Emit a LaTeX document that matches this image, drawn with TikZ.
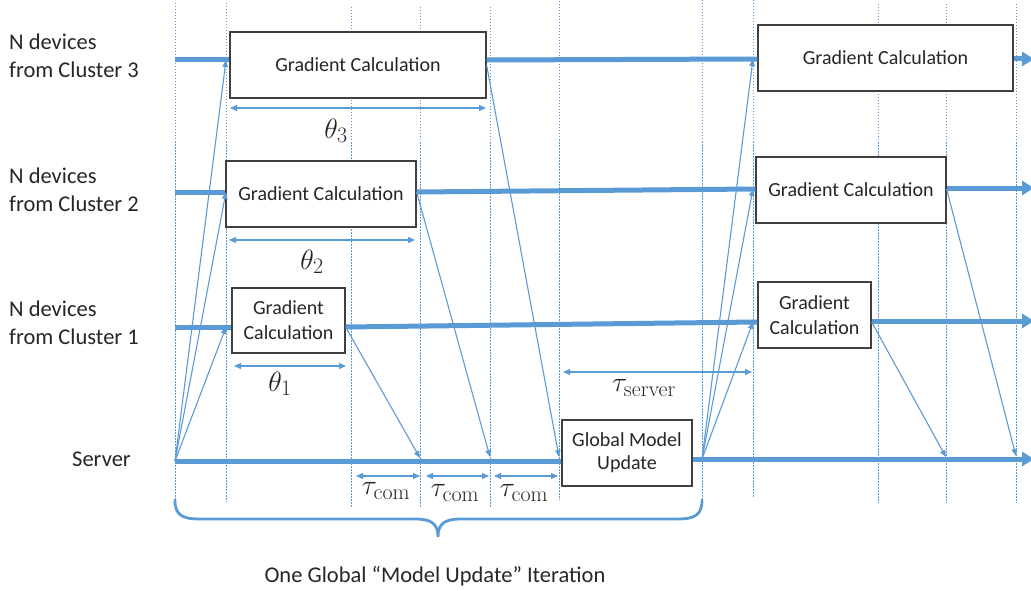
\documentclass[tikz,border=0pt]{standalone}
\usepackage{fix-cm}
\usepackage[no-math]{fontspec}
\setmainfont{Carlito}
\DeclareMathSizes{28}{28}{22}{16}
\usetikzlibrary{arrows.meta}
\definecolor{flow}{HTML}{5B9BD5}
\definecolor{ink}{HTML}{262626}
\definecolor{frame}{HTML}{404040}

\begin{document}
\begin{tikzpicture}[x=1pt,y=-1pt,
  guide/.style={flow, line width=1pt, dash pattern=on 1.5pt off 1.5pt},
  lane/.style={flow, line width=5pt},
  lanearrow/.style={lane, -{Triangle[length=12pt,width=14pt]}},
  msg/.style={flow, line width=1.1pt, -{Triangle[length=7pt,width=5.5pt]}},
  span/.style={flow, line width=1.3pt, {Triangle[length=7pt,width=6pt]}-{Triangle[length=7pt,width=6pt]}},
  task/.style={draw=frame, line width=1.2pt, fill=white, text=ink, inner sep=0pt,
    align=center, font=\fontsize{20}{25}\selectfont},
  who/.style={anchor=west, align=left, text=ink, inner sep=0pt,
    font=\fontsize{22.5}{27.5}\selectfont},
  mathlbl/.style={text=ink, inner sep=0pt, font=\fontsize{28}{32}\selectfont},
]
\useasboundingbox (0,0) rectangle (1031,591);

% time grid
\foreach \x/\a/\b in {175/3/500, 226/3/502, 351/7/507, 420/7/507, 490/7/507,
    559/1/500, 702/0/500, 753/0/498, 878/4/503, 946/4/503, 1016/4/503}
  \draw[guide] (\x,\a) -- (\x,\b);

% row labels
\node[who] (n3) at (9,56) {N devices\\from Cluster 3};
\node[who] (n2) at (9,190) {N devices\\from Cluster 2};
\node[who] (n1) at (9,323) {N devices\\from Cluster 1};
\node[who] (srv) at (72,459) {Server};

% processing boxes
\node[task, minimum width=256pt, minimum height=66pt] (g3a) at (358,65) {Gradient Calculation};
\node[task, minimum width=255pt, minimum height=66pt] (g3b) at (885.5,58) {Gradient Calculation};
\node[task, minimum width=190pt, minimum height=66pt] (g2a) at (321,194) {Gradient Calculation};
\node[task, minimum width=190pt, minimum height=66pt] (g2b) at (851,190) {Gradient Calculation};
\node[task, minimum width=113pt, minimum height=65pt] (g1a) at (288.5,320.5) {Gradient\\Calculation};
\node[task, minimum width=113pt, minimum height=66pt] (g1b) at (814.5,315) {Gradient\\Calculation};
\node[task, minimum width=130pt, minimum height=66pt, font=\fontsize{20}{23}\selectfont] (gmu) at (627,453) {Global Model\\Update};

% lane anchor points
\coordinate (c3) at (175,60);
\coordinate (c2) at (175,192);
\coordinate (c1) at (175,327);
\coordinate (sv) at (175,461);
\coordinate (c3in) at (226,60);
\coordinate (c2in) at (226,192);
\coordinate (c1in) at (226,327);
\coordinate (sv2) at (702,459);
\coordinate (c3in2) at (753,59);
\coordinate (c2in2) at (753,189);
\coordinate (c1in2) at (753,322);
\coordinate (e3) at (1034,59);
\coordinate (e2) at (1034,188);
\coordinate (e1) at (1034,321);
\coordinate (es) at (1034,459);
\coordinate (r1) at (420,458);
\coordinate (r2) at (490,457);
\coordinate (r3) at (559,457);
\coordinate (r4) at (946,457);
\coordinate (r5) at (1016,456);

% timelines
\draw[lane] (c3) -- (c3 -| g3a.west);
\draw[lane] (g3a.east |- c3) -- (g3b.west |- c3in2);
\draw[lanearrow] (g3b.east |- e3) -- (e3);
\draw[lane] (c2) -- (c2 -| g2a.west);
\draw[lane] (g2a.east |- c2) -- (g2b.west |- c2in2);
\draw[lanearrow] (g2b.east |- e2) -- (e2);
\draw[lane] (c1) -- (c1 -| g1a.west);
\draw[lane] (g1a.east |- c1) -- (g1b.west |- c1in2);
\draw[lanearrow] (g1b.east |- e1) -- (e1);
\draw[lane] (sv) -- (sv -| gmu.west);
\draw[lanearrow] (gmu.east |- es) -- (es);

% model broadcast and gradient upload
\draw[msg] (sv) -- (c3in);
\draw[msg] (sv) -- (c2in);
\draw[msg] (sv) -- (c1in);
\draw[msg] (sv2) -- (c3in2);
\draw[msg] (sv2) -- (c2in2);
\draw[msg] (sv2) -- (c1in2);
\draw[msg] (g1a.east |- c1) -- (r1);
\draw[msg] (g2a.east |- c2) -- (r2);
\draw[msg] (g3a.east) -- (r3);
\draw[msg] (g1b.east |- c1in2) -- (r4);
\draw[msg] (g2b.east |- c2in2) -- (r5);

% durations
\coordinate (t3a) at (230,108); \coordinate (t3b) at (486,108);
\coordinate (t2a) at (229,240); \coordinate (t2b) at (415,240);
\coordinate (t1a) at (234,366); \coordinate (t1b) at (346,366);
\coordinate (tsa) at (563,372); \coordinate (tsb) at (752,372);
\coordinate (ka) at (356,476); \coordinate (kb) at (420,476);
\coordinate (kc) at (426,476); \coordinate (kd) at (489,476);
\coordinate (ke) at (494,476); \coordinate (kf) at (558,476);
\draw[span] (t3a) -- (t3b);
\draw[span] (t2a) -- (t2b);
\draw[span] (t1a) -- (t1b);
\draw[span] (tsa) -- (tsb);
\draw[span] (ka) -- (kb);
\draw[span] (kc) -- (kd);
\draw[span] (ke) -- (kf);

\node[mathlbl] (l3) at (336,131) {$\theta_3$};
\node[mathlbl] (l2) at (312,262) {$\theta_2$};
\node[mathlbl] (l1) at (280,384) {$\theta_1$};
\node[mathlbl] (ls) at (644,388) {$\tau_{\mathrm{server}}$};
\node[mathlbl] (lk1) at (386,491) {$\tau_{\mathrm{com}}$};
\node[mathlbl] (lk2) at (455,493) {$\tau_{\mathrm{com}}$};
\node[mathlbl] (lk3) at (524,493) {$\tau_{\mathrm{com}}$};

% iteration brace
\coordinate (bl) at (175,500);
\coordinate (bm) at (438,537);
\coordinate (br) at (702,500);
\draw[flow, line width=2.8pt, line cap=round]
  (bl) .. controls (175,515) and (182,519) .. (200,519) -- (415,519)
  .. controls (432,519) and (438,524) .. (bm)
  .. controls (438,524) and (444,519) .. (461,519) -- (677,519)
  .. controls (695,519) and (702,515) .. (br);
\node[text=ink, inner sep=0pt, font=\fontsize{22.5}{27}\selectfont] (iter) at (435,576)
  {One Global “Model Update” Iteration};
\end{tikzpicture}
\end{document}
